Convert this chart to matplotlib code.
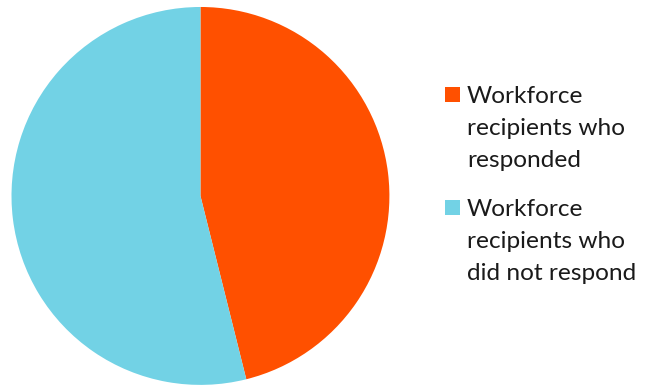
import matplotlib.pyplot as plt
from matplotlib.patches import Rectangle

plt.rcParams['font.family'] = ['Lato', 'DejaVu Sans']

labels = [["Workforce", "recipients who", "responded"],
          ["Workforce", "recipients who", "did not respond"]]
shares = [46.1, 53.9]
colors = ['#FF5000', '#72D2E5']

W, H = 646, 387
fig = plt.figure(figsize=(W / 100, H / 100), dpi=100)
ax = fig.add_axes([0.0178, 0.0052, 0.585, 0.977])
ax.pie(shares, colors=colors, startangle=90, counterclock=False, radius=1.0,
       wedgeprops=dict(linewidth=0))
ax.set_xlim(-1, 1)
ax.set_ylim(-1, 1)
ax.set_aspect('equal')

# legend drawn by hand: square aligned with first line, 3 lines per entry
first_baseline = [103, 216]
line_gap = 32
for lines, c, y0 in zip(labels, colors, first_baseline):
    fig.patches.append(Rectangle((445 / W, 1 - (y0 - 1) / H), 15 / W, 15 / H,
                                 facecolor=c, edgecolor='none',
                                 transform=fig.transFigure, figure=fig))
    for i, line in enumerate(lines):
        fig.text(467 / W, 1 - (y0 + i * line_gap) / H, line, fontsize=17.6,
                 color='#1a1a1a', ha='left', va='baseline')

fig.savefig('out.png', dpi=100)
